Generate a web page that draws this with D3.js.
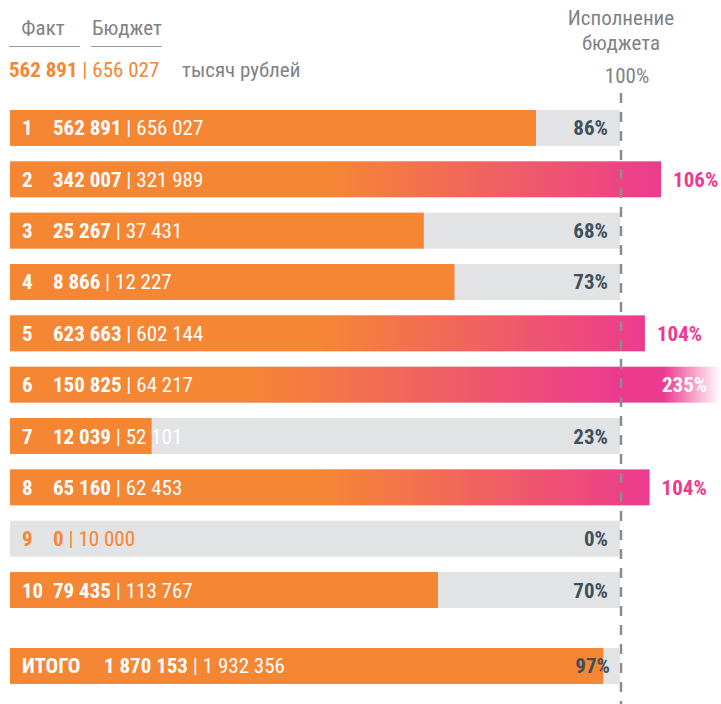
<!DOCTYPE html>
<html>
<head>
<meta charset="utf-8">
<script src="https://cdn.jsdelivr.net/npm/d3@7"></script>
<style>
  body { margin: 0; background: #fff; }
  text { font-family: "Roboto Condensed", Roboto, "Noto Sans", sans-serif; }
</style>
</head>
<body>
<svg id="chart" width="721" height="704"></svg>
<script>
// row labels and values (thousand roubles)
var ids = ['1', '2', '3', '4', '5', '6', '7', '8', '9', '10']
var fact = [562891, 342007, 25267, 8866, 623663, 150825, 12039, 65160, 0, 79435]
var budget = [656027, 321989, 37431, 12227, 602144, 64217, 52101, 62453, 10000, 113767]
var totalLabel = 'ИТОГО'
var totalFact = 1870153
var totalBudget = 1932356

var orange = '#f58634'
var pink = '#ec3b8f'
var grey = '#e2e3e5'
var darkText = '#3e505c'
var headText = '#808285'

var svg = d3.select('#chart')
var svgWidth = +svg.attr('width')

var fmt = d3.formatLocale({decimal: ',', thousands: '\u00a0', grouping: [3], currency: ['', '']}).format(',d')

var rows = ids.map(function (id, i) {
  return {id: id, fact: fact[i], budget: budget[i], pct: budget[i] ? fact[i] / budget[i] : 0}
})

var x = d3.scaleLinear().domain([0, 1]).range([10, 623])
var y = d3.scaleBand().domain(ids).range([110, 608]).paddingInner(0.3)
var bh = y.bandwidth()
var totalY = 648
var bgEnd = x(1) - 3   // grey track stops just before the 100% line
var lineX = x(1) - 2

var defs = svg.append('defs')

// header
svg.append('text').attr('x', 43).attr('y', 35).attr('text-anchor', 'middle')
  .attr('font-size', 21).attr('fill', headText).text('Факт')
svg.append('text').attr('x', 127).attr('y', 35).attr('text-anchor', 'middle')
  .attr('font-size', 21).attr('fill', headText).text('Бюджет')
svg.append('line').attr('x1', 9).attr('x2', 80).attr('y1', 46.5).attr('y2', 46.5).attr('stroke', '#9a9a9a')
svg.append('line').attr('x1', 91).attr('x2', 162).attr('y1', 46.5).attr('y2', 46.5).attr('stroke', '#9a9a9a')

var hv = svg.append('text').attr('x', 9).attr('y', 77).attr('font-size', 21).attr('fill', orange)
hv.append('tspan').attr('font-weight', 'bold').text(fmt(fact[0]))
hv.append('tspan').text(' | ' + fmt(budget[0]))
svg.append('text').attr('x', 182).attr('y', 77).attr('font-size', 21).attr('fill', headText).text('тысяч рублей')

svg.append('text').attr('x', 621).attr('y', 25).attr('text-anchor', 'middle')
  .attr('font-size', 21).attr('fill', headText).text('Исполнение')
svg.append('text').attr('x', 621).attr('y', 50).attr('text-anchor', 'middle')
  .attr('font-size', 21).attr('fill', headText).text('бюджета')
svg.append('text').attr('x', 627).attr('y', 83).attr('text-anchor', 'middle')
  .attr('font-size', 21).attr('fill', headText).text('100%')

// grey background = budget
svg.selectAll('rect.bg').data(rows).enter().append('rect')
  .attr('class', 'bg')
  .attr('x', x(0)).attr('y', function (d) { return y(d.id) })
  .attr('width', bgEnd - x(0)).attr('height', bh)
  .attr('fill', grey)

// gradients for over-budget rows
rows.forEach(function (d, i) {
  if (d.pct <= 1) return
  var g = defs.append('linearGradient').attr('id', 'grad' + i)
  if (d.pct > 1.5) {
    // bar runs off the chart and fades out
    g.selectAll('stop').data([[0, orange], [0.34, orange], [0.85, pink], [0.92, pink], [1, '#fff']])
      .enter().append('stop')
      .attr('offset', function (s) { return s[0] }).attr('stop-color', function (s) { return s[1] })
  } else {
    g.selectAll('stop').data([[0, orange], [0.49, orange], [1, pink]])
      .enter().append('stop')
      .attr('offset', function (s) { return s[0] }).attr('stop-color', function (s) { return s[1] })
  }
})

function barEnd(p) { return Math.min(x(p), svgWidth) }

svg.selectAll('rect.fact').data(rows).enter().append('rect')
  .attr('class', 'fact')
  .attr('x', x(0)).attr('y', function (d) { return y(d.id) })
  .attr('width', function (d) { return barEnd(d.pct) - x(0) })
  .attr('height', bh)
  .attr('fill', function (d, i) { return d.pct > 1 ? 'url(#grad' + i + ')' : orange })

// dashed 100% line
svg.append('line').attr('x1', lineX).attr('x2', lineX).attr('y1', 93).attr('y2', 704)
  .attr('stroke', '#8c8c8c').attr('stroke-width', 2.5).attr('stroke-dasharray', '10,9')

// row labels
var lab = svg.selectAll('g.lab').data(rows).enter().append('g')
  .attr('class', 'lab')
  .attr('transform', function (d) { return 'translate(0,' + (y(d.id) + bh / 2 + 7.5) + ')' })
  .attr('fill', function (d) { return d.fact > 0 ? '#fff' : orange })

lab.append('text').attr('x', 22).attr('font-size', 21).attr('font-weight', 'bold')
  .text(function (d) { return d.id })
var vt = lab.append('text').attr('x', 53).attr('font-size', 21)
vt.append('tspan').attr('font-weight', 'bold').text(function (d) { return fmt(d.fact) })
vt.append('tspan').text(function (d) { return ' | ' + fmt(d.budget) })

// percentages
lab.append('text').attr('font-size', 21).attr('font-weight', 'bold')
  .attr('x', function (d) {
    if (d.pct > 1.5) return 662
    return d.pct > 1 ? barEnd(d.pct) + 12 : bgEnd - 12
  })
  .attr('text-anchor', function (d) { return d.pct > 1 ? 'start' : 'end' })
  .attr('fill', function (d) { return d.pct > 1.5 ? '#fff' : d.pct > 1 ? pink : darkText })
  .text(function (d) { return Math.round(d.pct * 100) + '%' })

// total row
var tPct = totalFact / totalBudget
svg.append('rect').attr('x', x(0)).attr('y', totalY).attr('width', bgEnd - x(0)).attr('height', bh).attr('fill', grey)
svg.append('rect').attr('x', x(0)).attr('y', totalY).attr('width', x(tPct) - x(0)).attr('height', bh).attr('fill', orange)
var tg = svg.append('g').attr('transform', 'translate(0,' + (totalY + bh / 2 + 7.5) + ')')
tg.append('text').attr('x', 22).attr('font-size', 21).attr('font-weight', 'bold').attr('fill', '#fff').text(totalLabel)
var tt = tg.append('text').attr('x', 104).attr('font-size', 21).attr('fill', '#fff')
tt.append('tspan').attr('font-weight', 'bold').text(fmt(totalFact))
tt.append('tspan').text(' | ' + fmt(totalBudget))
tg.append('text').attr('x', bgEnd - 10).attr('text-anchor', 'end').attr('font-size', 21)
  .attr('font-weight', 'bold').attr('fill', darkText).text(Math.round(tPct * 100) + '%')
</script>
</body>
</html>
